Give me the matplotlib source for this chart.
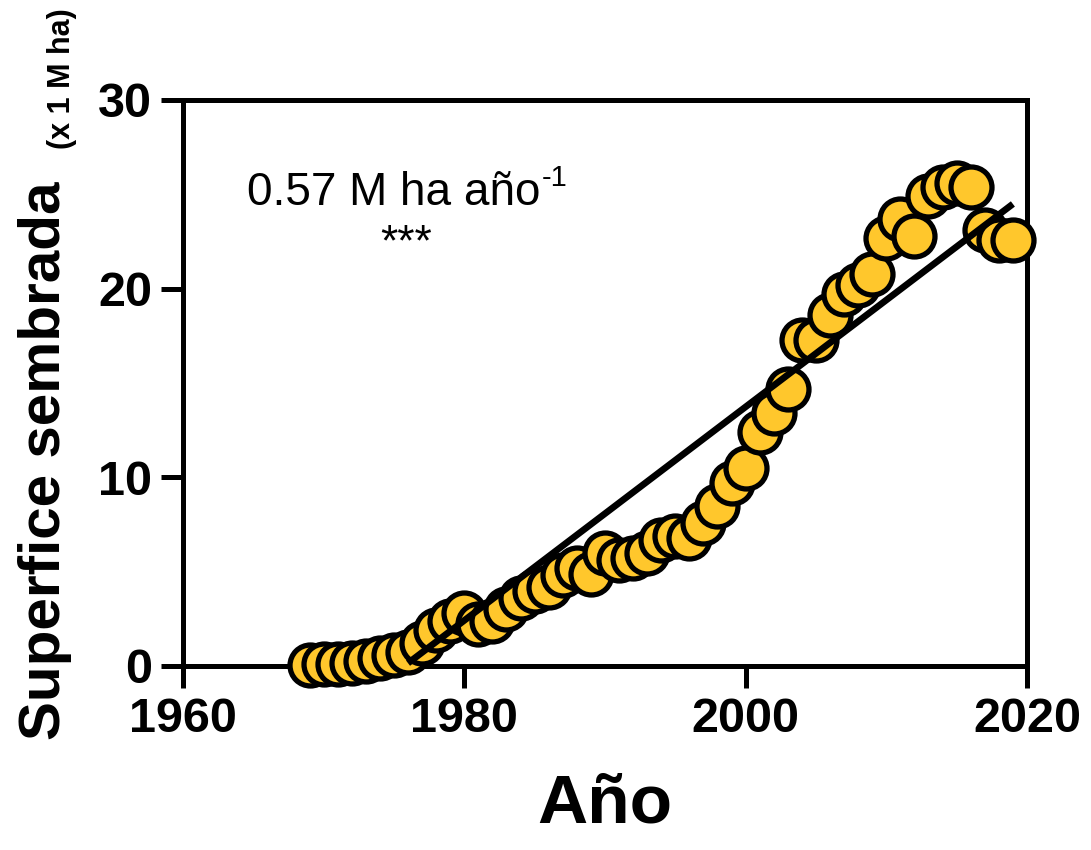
import matplotlib
matplotlib.use("Agg")
import matplotlib.pyplot as plt
import numpy as np

years = list(range(1969, 2020))
area = [0.05, 0.1, 0.1, 0.15, 0.25, 0.4, 0.6, 0.75, 1.2, 1.9, 2.4, 2.8,
        2.2, 2.4, 3.0, 3.6, 4.0, 4.2, 4.8, 5.2, 4.9, 6.0, 5.6, 5.7, 6.0,
        6.7, 6.9, 6.8, 7.6, 8.5, 9.7, 10.5, 12.4, 13.4, 14.7, 17.3, 17.3,
        18.6, 19.7, 20.2, 20.8, 22.7, 23.7, 22.8, 24.9, 25.4, 25.6, 25.4,
        23.1, 22.6, 22.6]

fit_x = [1976, 2019]
fit_slope = 0.566
fit_y0 = 0.15

xticks = [1960, 1980, 2000, 2020]
yticks = [0, 10, 20, 30]

plt.rcParams['font.family'] = ['Liberation Sans', 'DejaVu Sans']

fig = plt.figure(figsize=(10.91, 8.5), dpi=100)
ax = fig.add_axes([0.1677, 0.2165, 0.9413 - 0.1677, 0.8824 - 0.2165])

ax.plot(years, area, 'o', ms=29.5, mfc='#FFC72C', mec='black', mew=3.8,
        clip_on=False, zorder=3)
fx = np.array(fit_x, dtype=float)
ax.plot(fx, fit_y0 + fit_slope * (fx - fit_x[0]), color='black', lw=4.8,
        solid_capstyle='butt', zorder=4)

ax.set_xlim(1960, 2020)
ax.set_ylim(0, 30)
ax.set_xticks(xticks)
ax.set_yticks(yticks)
for s in ax.spines.values():
    s.set_linewidth(3.6)
ax.tick_params(axis='both', direction='out', length=16, width=3.6,
               labelsize=35, pad=6)
for lab in ax.get_xticklabels() + ax.get_yticklabels():
    lab.set_fontweight('bold')

t = ax.text(0.076, 0.835, '0.57 M ha año', transform=ax.transAxes,
            fontsize=33, ha='left', va='center')
ax.annotate('-1', xy=(1.0, 1.0), xycoords=t, xytext=(1, 5),
            textcoords='offset points', fontsize=21, ha='left', va='top')
ax.text(0.265, 0.745, '***', transform=ax.transAxes, fontsize=32,
        ha='center', va='center')

ax.set_xlabel('Año', fontsize=50, fontweight='bold', labelpad=22)
fig.text(0.041, 0.458, 'Superfice sembrada', rotation=90, fontsize=42,
         fontweight='bold', ha='center', va='center')
fig.text(0.057, 0.907, '(x 1 M ha)', rotation=90, fontsize=22,
         fontweight='bold', ha='center', va='center')

fig.savefig('out.png', dpi=100)
